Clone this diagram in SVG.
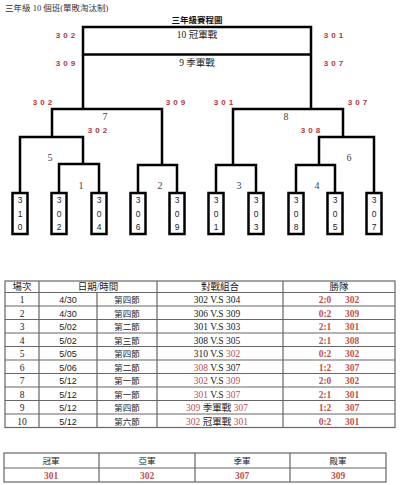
<svg xmlns="http://www.w3.org/2000/svg" width="400" height="485" viewBox="0 0 400 485">
<style>
.t{font-family:"Liberation Serif","Noto Sans CJK TC",serif;font-size:9.5px;fill:#222;text-anchor:middle}
.s{font-family:"Liberation Sans","DejaVu Sans",sans-serif;font-size:9px;fill:#222;text-anchor:middle}
.r{fill:#c0504d}
.lab{font-family:"Liberation Sans",sans-serif;font-size:8px;font-weight:bold;fill:#b03a3a;text-anchor:middle;letter-spacing:3px}
.ml{font-family:"Liberation Serif",serif;font-size:10px;fill:#444444;text-anchor:middle}
.c{fill:none;stroke:#000;stroke-width:2.5}
.tb{fill:#fff;stroke:#000;stroke-width:2.5}
.td{font-family:"Liberation Sans",sans-serif;font-size:8.5px;fill:#222;text-anchor:middle}
.g{stroke:#666;stroke-width:1.2;fill:none}
</style>
<rect width="400" height="485" fill="#fff"/>
<text x="5" y="11" style="font-family:'Liberation Serif','Noto Sans CJK TC',serif;font-size:8.5px;fill:#333">三年級 10 個班(單敗淘汰制)</text>
<text x="197" y="23" style="font-family:'Liberation Serif','Noto Sans CJK TC',serif;font-size:8.5px;font-weight:bold;fill:#111;text-anchor:middle">三年級賽程圖</text>

<g id="connectors">
<path class="c" d="M83,109 V27 H311 V109"/>
<path class="c" d="M83,54.5 H311"/>
<path class="c" d="M52,137 V109 H162 V165"/>
<path class="c" d="M20,193 V137 H83 V164"/>
<path class="c" d="M59,193 V164 H99 V193"/>
<path class="c" d="M138,193 V165 H177 V193"/>
<path class="c" d="M233,165 V109 H343 V137"/>
<path class="c" d="M216,193 V165 H256 V193"/>
<path class="c" d="M319,165 V137 H374 V193"/>
<path class="c" d="M296,193 V165 H335 V193"/>
</g>

<g id="final"><text class="t" x="197" y="38">10 冠軍戰</text></g>
<g id="third"><text class="t" x="197" y="66">9 季軍戰</text></g>
<g id="labels">
<text class="lab" x="67" y="38">302</text>
<text class="lab" x="67" y="66">309</text>
<text class="lab" x="335" y="38">301</text>
<text class="lab" x="335" y="66">307</text>
<text class="lab" x="44" y="105">302</text>
<text class="lab" x="177" y="105">309</text>
<text class="lab" x="225" y="105">301</text>
<text class="lab" x="359" y="105">307</text>
<text class="lab" x="99" y="133">302</text>
<text class="lab" x="312" y="133">308</text>
</g>
<g id="m7"><text class="ml" x="105" y="120">7</text></g>
<g id="m8"><text class="ml" x="286" y="120">8</text></g>
<g id="m5"><text class="ml" x="50" y="161">5</text></g>
<g id="m6"><text class="ml" x="349" y="161">6</text></g>
<g id="m1"><text class="ml" x="81" y="189">1</text></g>
<g id="m2"><text class="ml" x="160" y="189">2</text></g>
<g id="m3"><text class="ml" x="239" y="189">3</text></g>
<g id="m4"><text class="ml" x="317" y="189">4</text></g>

<g id="t310"><rect class="tb" x="12.5" y="193" width="15" height="41"/><text class="td" x="20" y="203">3</text><text class="td" x="20" y="217">1</text><text class="td" x="20" y="230">0</text></g>
<g id="t302"><rect class="tb" x="51.5" y="193" width="15" height="41"/><text class="td" x="59" y="203">3</text><text class="td" x="59" y="217">0</text><text class="td" x="59" y="230">2</text></g>
<g id="t304"><rect class="tb" x="91.5" y="193" width="15" height="41"/><text class="td" x="99" y="203">3</text><text class="td" x="99" y="217">0</text><text class="td" x="99" y="230">4</text></g>
<g id="t306"><rect class="tb" x="130.5" y="193" width="15" height="41"/><text class="td" x="138" y="203">3</text><text class="td" x="138" y="217">0</text><text class="td" x="138" y="230">6</text></g>
<g id="t309"><rect class="tb" x="169.5" y="193" width="15" height="41"/><text class="td" x="177" y="203">3</text><text class="td" x="177" y="217">0</text><text class="td" x="177" y="230">9</text></g>
<g id="t301"><rect class="tb" x="208.5" y="193" width="15" height="41"/><text class="td" x="216" y="203">3</text><text class="td" x="216" y="217">0</text><text class="td" x="216" y="230">1</text></g>
<g id="t303"><rect class="tb" x="248.5" y="193" width="15" height="41"/><text class="td" x="256" y="203">3</text><text class="td" x="256" y="217">0</text><text class="td" x="256" y="230">3</text></g>
<g id="t308"><rect class="tb" x="288.5" y="193" width="15" height="41"/><text class="td" x="296" y="203">3</text><text class="td" x="296" y="217">0</text><text class="td" x="296" y="230">8</text></g>
<g id="t305"><rect class="tb" x="327.5" y="193" width="15" height="41"/><text class="td" x="335" y="203">3</text><text class="td" x="335" y="217">0</text><text class="td" x="335" y="230">5</text></g>
<g id="t307"><rect class="tb" x="366.5" y="193" width="15" height="41"/><text class="td" x="374" y="203">3</text><text class="td" x="374" y="217">0</text><text class="td" x="374" y="230">7</text></g>

<g id="schedule">
<rect class="g" x="5" y="281" width="390" height="146.5"/>
<path class="g" d="M5,292.5 H395 M5,306 H395 M5,319.5 H395 M5,333 H395 M5,346.5 H395 M5,360 H395 M5,373.5 H395 M5,387 H395 M5,400.5 H395 M5,414 H395"/>
<path class="g" d="M39,281 V427.5 M97,292.5 V427.5 M157,281 V427.5 M283,281 V427.5"/>
<text class="t" x="22" y="290">場次</text>
<text class="t" x="98" y="290">日期/時間</text>
<text class="t" x="220" y="290">對戰組合</text>
<text class="t" x="339" y="290">勝隊</text>

<g class="t">
<text x="22" y="303">1</text><text x="22" y="316.5">2</text><text x="22" y="330">3</text><text x="22" y="343.5">4</text><text x="22" y="357">5</text><text x="22" y="370.5">6</text><text x="22" y="384">7</text><text x="22" y="397.5">8</text><text x="22" y="411">9</text><text x="22" y="424.5">10</text>
</g>
<g class="s">
<text x="68" y="303">4/30</text><text x="68" y="316.5">4/30</text><text x="68" y="330">5/02</text><text x="68" y="343.5">5/02</text><text x="68" y="357">5/05</text><text x="68" y="370.5">5/06</text><text x="68" y="384">5/12</text><text x="68" y="397.5">5/12</text><text x="68" y="411">5/12</text><text x="68" y="424.5">5/12</text>
</g>
<g class="t" style="font-size:8.5px">
<text x="127" y="303">第四節</text><text x="127" y="316.5">第四節</text><text x="127" y="330">第二節</text><text x="127" y="343.5">第三節</text><text x="127" y="357">第四節</text><text x="127" y="370.5">第二節</text><text x="127" y="384">第一節</text><text x="127" y="397.5">第一節</text><text x="127" y="411">第四節</text><text x="127" y="424.5">第六節</text>
</g>
<g class="t">
<text x="217" y="303">302 V.S 304</text>
<text x="217" y="316.5">306 V.S 309</text>
<text x="217" y="330">301 V.S 303</text>
<text x="217" y="343.5">308 V.S 305</text>
<text x="217" y="357">310 V.S <tspan class="r">302</tspan></text>
<text x="217" y="370.5"><tspan class="r">308</tspan> V.S 307</text>
<text x="217" y="384"><tspan class="r">302</tspan> V.S <tspan class="r">309</tspan></text>
<text x="217" y="397.5"><tspan class="r">301</tspan> V.S <tspan class="r">307</tspan></text>
<text x="217" y="411"><tspan class="r">309</tspan> 季軍戰 <tspan class="r">307</tspan></text>
<text x="217" y="424.5"><tspan class="r">302</tspan> 冠軍戰 <tspan class="r">301</tspan></text>
</g>
<g class="t" style="fill:#c0504d;font-weight:bold">
<text x="325" y="303">2:0</text><text x="352" y="303">302</text>
<text x="325" y="316.5">0:2</text><text x="352" y="316.5">309</text>
<text x="325" y="330">2:1</text><text x="352" y="330">301</text>
<text x="325" y="343.5">2:1</text><text x="352" y="343.5">308</text>
<text x="325" y="357">0:2</text><text x="352" y="357">302</text>
<text x="325" y="370.5">1:2</text><text x="352" y="370.5">307</text>
<text x="325" y="384">2:0</text><text x="352" y="384">302</text>
<text x="325" y="397.5">2:1</text><text x="352" y="397.5">301</text>
<text x="325" y="411">1:2</text><text x="352" y="411">307</text>
<text x="325" y="424.5">0:2</text><text x="352" y="424.5">301</text>
</g>
</g>

<g id="ranking">
<rect class="g" x="4" y="453" width="382" height="29"/>
<path class="g" d="M4,468 H386 M99,453 V482 M195,453 V482 M290,453 V482"/>
<g class="t" style="font-size:8.5px">
<text x="51" y="464">冠軍</text><text x="147" y="464">亞軍</text><text x="242" y="464">季軍</text><text x="338" y="464">殿軍</text>
</g>
<g class="t" style="fill:#c0504d;font-weight:bold">
<text x="51" y="478.5">301</text><text x="147" y="478.5">302</text><text x="242" y="478.5">307</text><text x="338" y="478.5">309</text>
</g>
</g>
</svg>
